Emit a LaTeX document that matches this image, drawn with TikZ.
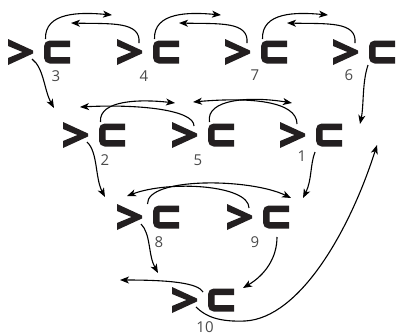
\documentclass[tikz,border=0pt]{standalone}
\usepackage{fontspec}
\setmainfont{Open Sans}
\usetikzlibrary{arrows.meta}
\definecolor{ink}{HTML}{231F20}
\definecolor{labelgray}{HTML}{4A4A4A}
\tikzset{
  unit/.pic={
    \fill[ink] (0,-13) -- (25,-1.5) -- (25,1.5) -- (0,13) -- (0,6) -- (14.5,0) -- (0,-6) -- cycle;
    \draw[ink, line width=6.5pt, rounded corners=3pt] (62,-8.25) -- (39.25,-8.25) -- (39.25,8.25) -- (62,8.25);
    \coordinate (-bt) at (37.5,-13);
    \coordinate (-ct) at (22,-9);
    \coordinate (-cb) at (24,7);
    \coordinate (-bb) at (35,13);
  },
  conn/.style={draw=black, line width=1.1pt, -{Stealth[length=9pt,width=7pt,inset=2.5pt]}},
  num/.style={text=labelgray, font=\fontsize{15}{15}\selectfont, inner sep=0pt}
}
\begin{document}
\begin{tikzpicture}[x=1pt, y=-1pt]
\useasboundingbox (0,0) rectangle (396,335);
% units
\pic (u3) at (8,52) {unit};
\pic (u4) at (117,52) {unit};
\pic (u7) at (225,52) {unit};
\pic (u6) at (333,52) {unit};
\pic (u2) at (63,135) {unit};
\pic (u5) at (172,135) {unit};
\pic (u1) at (280,135) {unit};
\pic (u8) at (117,217) {unit};
\pic (u9) at (227,217) {unit};
\pic (u10) at (172,300) {unit};
% labels
\node[num] (l3) at (56,76) {3};
\node[num] (l4) at (144,76) {4};
\node[num] (l7) at (255,75) {7};
\node[num] (l6) at (349,75) {6};
\node[num] (l2) at (105,160) {2};
\node[num] (l5) at (198,160) {5};
\node[num] (l1) at (302,156) {1};
\node[num] (l8) at (159,242) {8};
\node[num] (l9) at (255,242) {9};
\node[num] (l10) at (205,327) {10};
% arrow end points
\coordinate (eA) at (112,15);
\coordinate (eB) at (71,23);
\coordinate (eC) at (221,15);
\coordinate (eD) at (179,23);
\coordinate (eE) at (328,15);
\coordinate (eF) at (287,23);
\coordinate (eG) at (175,103);
\coordinate (eH) at (80,107);
\coordinate (eI) at (292,103);
\coordinate (eJ) at (193,102);
\coordinate (eK) at (291,198);
\coordinate (eL) at (127,196);
\coordinate (eM) at (158,273);
\coordinate (eN) at (105,197);
\coordinate (eO) at (54,108);
\coordinate (eP) at (360,124);
\coordinate (eQ) at (303,198);
\coordinate (eR) at (243,288);
\coordinate (eS) at (120,280);
\coordinate (eT) at (377,145);
% row 1
\draw[conn] (u3-bt) .. controls +(-1,-27) and +(-32,-3) .. (eA);
\draw[conn] (u4-ct) .. controls +(2,-22) and +(40,1) .. (eB);
\draw[conn] (u4-bt) .. controls +(-1,-27) and +(-32,-3) .. (eC);
\draw[conn] (u7-ct) .. controls +(2,-22) and +(40,1) .. (eD);
\draw[conn] (u7-bt) .. controls +(-1,-27) and +(-32,-3) .. (eE);
\draw[conn] (u6-ct) .. controls +(2,-22) and +(40,1) .. (eF);
% row 2
\draw[conn] (u2-bt) .. controls +(-2,-22) and +(-35,-4) .. (eG);
\draw[conn] (u5-ct) .. controls +(0,-16) and +(60,-3) .. (eH);
\draw[conn] (u5-bt) .. controls +(-4,-23) and +(-42,-7) .. (eI);
\draw[conn] ([shift={(-5,-2)}]u1-ct) .. controls +(0,-23) and +(57,-5) .. (eJ);
% row 3
\draw[conn] ([shift={(-7,0)}]u8-bt) .. controls +(-1,-27) and +(-41,-20) .. (eK);
\draw[conn] (u9-ct) .. controls +(0,-23) and +(43,-16) .. (eL);
% down arrows
\draw[conn] (u3-cb) .. controls +(12,9) and +(-10,-18) .. (eO);
\draw[conn] (u2-cb) .. controls +(11,10) and +(-10,-19) .. (eN);
\draw[conn] (u8-cb) .. controls +(10,10) and +(-10,-18) .. (eM);
\draw[conn] (u6-bb) .. controls +(-6,18) and +(4,-19) .. (eP);
\draw[conn] ([shift={(0,4)}]u1-bb) .. controls +(-5,13) and +(9,-18) .. (eQ);
\draw[conn] ([shift={(15,7)}]u9-bb) .. controls +(0,21) and +(22,-13) .. (eR);
% row 4
\draw[conn] ([shift={(9,1)}]u10-ct) .. controls +(-5,-9) and +(50,0) .. (eS);
\draw[conn] (u10-cb) .. controls +(10,10) and +(-25,1) .. (245,321) .. controls +(55,-3) and +(-27,85) .. (eT);
\end{tikzpicture}
\end{document}
